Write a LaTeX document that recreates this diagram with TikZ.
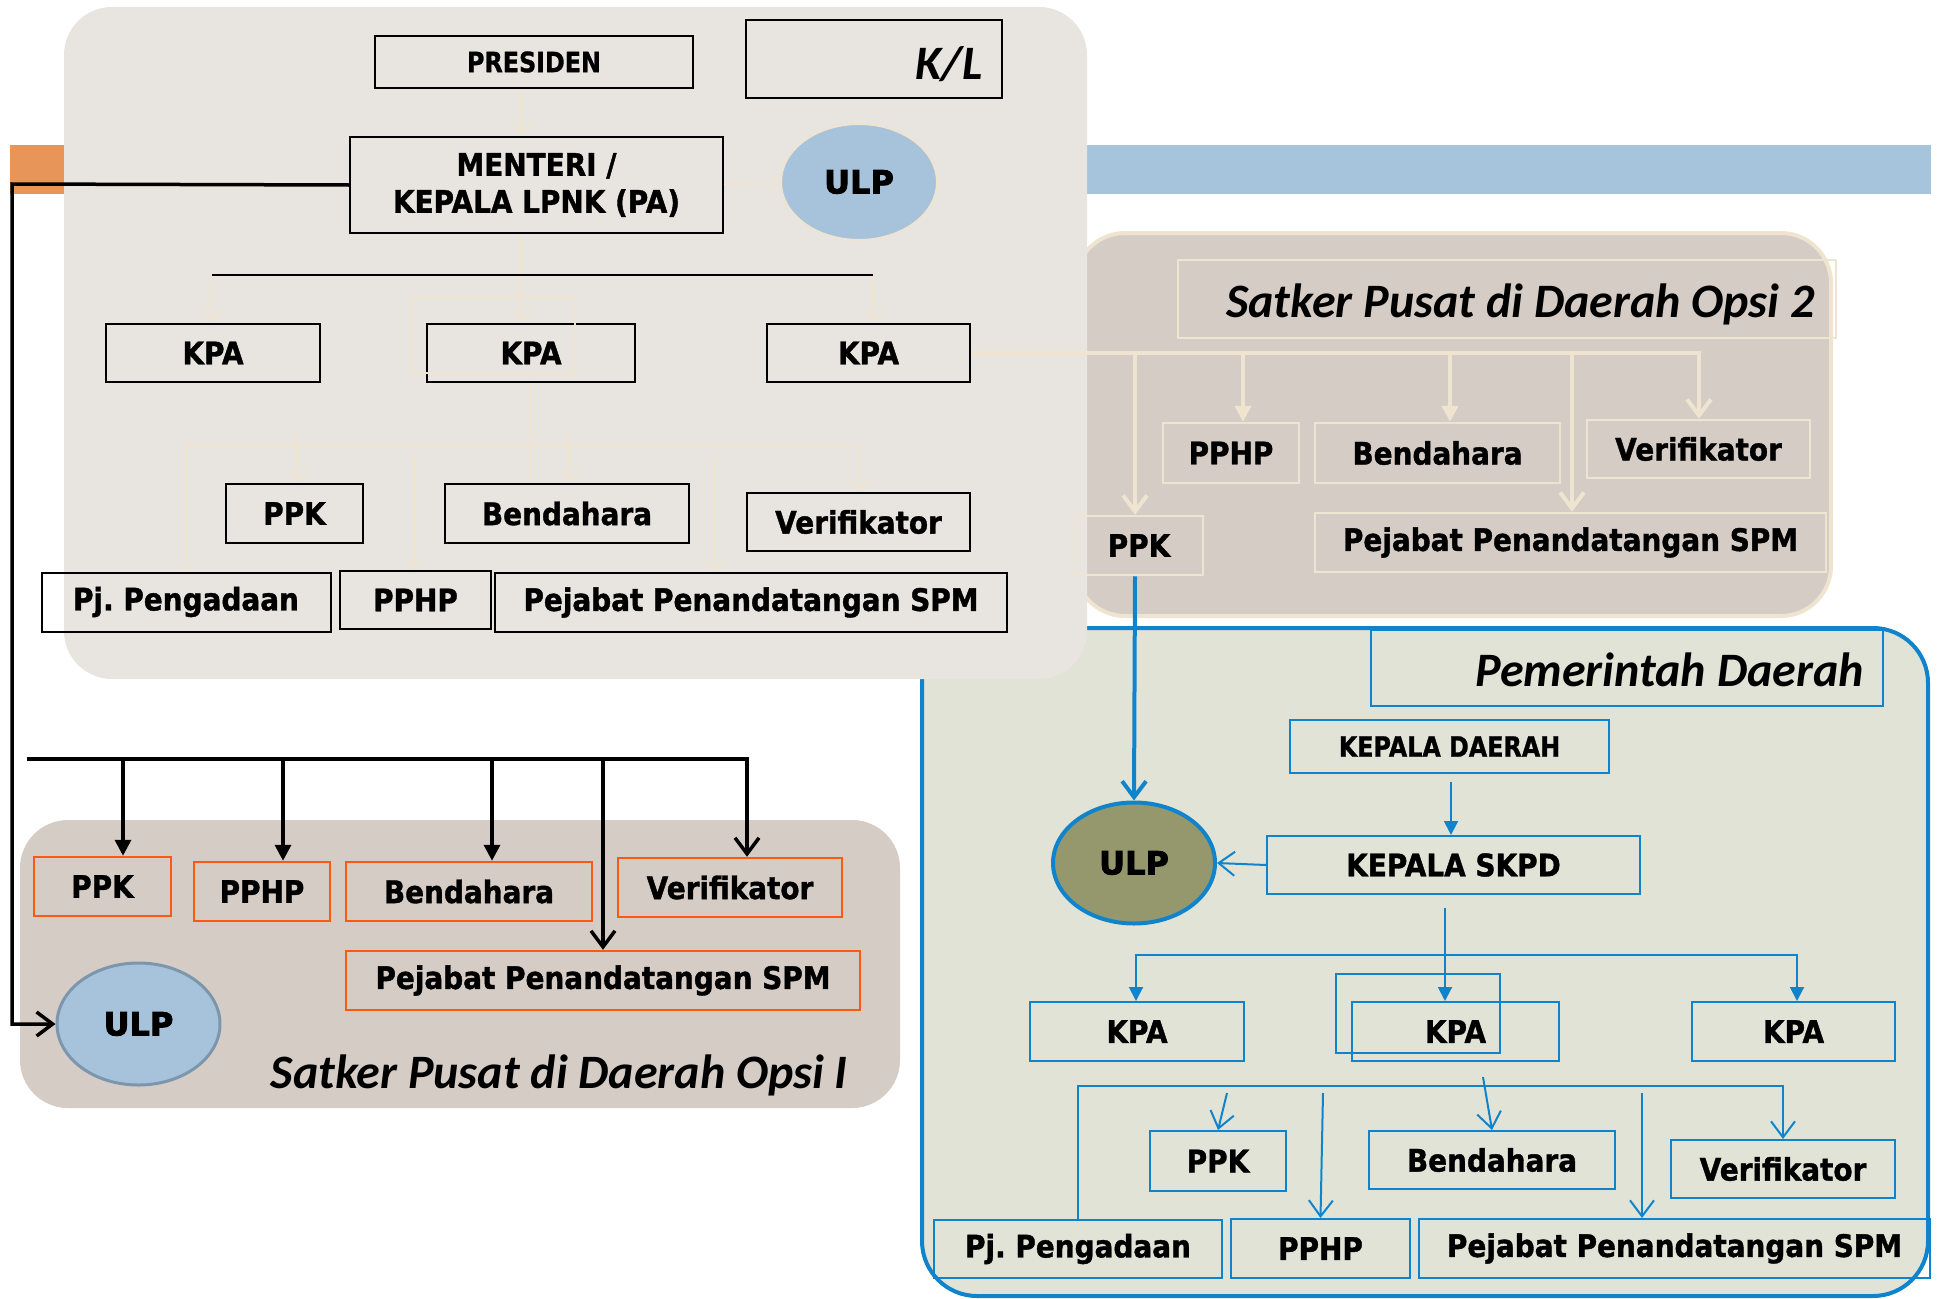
\documentclass[tikz,border=0pt]{standalone}
\usepackage{fontspec}
\setmainfont{DejaVu Sans}
\newfontfamily\labfont{DejaVu Sans Bold}[FakeStretch=0.9, FakeBold=1.2]
\newfontfamily\condfont{DejaVu Sans Bold}[FakeStretch=0.85, FakeBold=1.0]
\newfontfamily\ulpfont{DejaVu Sans Bold}[FakeBold=2.5]
\newfontfamily\titlefont{Carlito}
\usetikzlibrary{arrows.meta,shapes.geometric}

\definecolor{klbg}{RGB}{232,228,224}
\definecolor{taupe}{RGB}{214,204,198}
\definecolor{pemdabg}{RGB}{225,227,215}
\definecolor{cream}{RGB}{238,228,207}
\definecolor{pblue}{RGB}{15,132,204}
\definecolor{ulpblue}{RGB}{166,195,219}
\definecolor{ulpedge}{RGB}{124,150,173}
\definecolor{olive}{RGB}{148,152,108}
\definecolor{obox}{RGB}{250,90,20}
\definecolor{obar}{RGB}{232,149,90}
\definecolor{bbar}{RGB}{166,196,220}

\tikzset{
  lbl/.style={font=\labfont\fontsize{31}{37}\selectfont, inner sep=0pt},
  condlbl/.style={font=\condfont\fontsize{28}{34}\selectfont, inner sep=0pt},
  blackbox/.style={lbl, draw=black, line width=2pt},
  creambox/.style={lbl, draw=cream, line width=2.5pt},
  orangebox/.style={lbl, draw=obox, line width=2.5pt},
  bluebox/.style={lbl, draw=pblue, line width=2pt},
  ulpnode/.style={ellipse, inner sep=0pt, font=\ulpfont\fontsize{32}{36}\selectfont},
  ttl/.style={inner sep=0pt, font=\titlefont\fontsize{48}{56}\selectfont\bfseries\itshape},
  barbS/.tip={Straight Barb[length=12pt,width=20pt]},
  barbL/.tip={Straight Barb[length=16pt,width=24pt]},
  tri/.tip={Triangle[length=16pt,width=16pt]},
  triS/.tip={Triangle[length=14pt,width=14pt]},
  creamthin/.style={draw=cream, line width=1.5pt},
  creamthick/.style={draw=cream, line width=4pt},
  blackline/.style={draw=black, line width=3.5pt},
  bluethick/.style={draw=pblue, line width=4pt},
  bluethin/.style={draw=pblue, line width=2pt},
}

\begin{document}
\frenchspacing
\begin{tikzpicture}[x=1pt,y=-1pt]
\path[use as bounding box] (0,0) rectangle (1937,1298);

% ---------- background bars and panels ----------
\fill[obar] (10,145) rectangle (64,194);
\fill[bbar] (1087,145) rectangle (1931,194);
\filldraw[fill=pemdabg, draw=pblue, line width=4pt, rounded corners=55pt] (922,628) rectangle (1928,1296);
\filldraw[fill=taupe, draw=cream, line width=4pt, rounded corners=50pt] (1075,233) rectangle (1831,616);
\fill[klbg, rounded corners=48pt] (64,7) rectangle (1087,679);
\fill[taupe, rounded corners=48pt] (20,820) rectangle (900,1108);

% ---------- K/L ----------
\node[blackbox, condlbl, minimum width=318pt, minimum height=52pt] (presiden) at (534,62) {PRESIDEN};
\node[blackbox, line width=2.5pt, minimum width=256pt, minimum height=78pt] (kl) at (874,59) {};
\node[ttl, anchor=base east] (kltext) at (983,79) {K/L};
\node[blackbox, align=center, minimum width=373pt, minimum height=96pt] (menteri) at (536.5,185) {MENTERI /\\KEPALA LPNK (PA)};
\node[ulpnode, fill=ulpblue, draw=cream, line width=2pt, minimum width=156pt, minimum height=116pt] (ulpA) at (859,182) {ULP};

\node[blackbox, minimum width=214pt, minimum height=58pt] (kpaA1) at (213,353) {KPA};
\node[blackbox, minimum width=208pt, minimum height=58pt] (kpaA2) at (531,353) {KPA};
\node[blackbox, minimum width=203pt, minimum height=58pt] (kpaA3) at (868.5,353) {KPA};
\node[draw=cream, line width=1.5pt, minimum width=163pt, minimum height=76pt] (kpaA2frame) at (493.5,335) {};

\node[blackbox, minimum width=137pt, minimum height=59pt] (ppkA) at (294.5,513.5) {PPK};
\node[blackbox, minimum width=244pt, minimum height=59pt] (bendA) at (567,513.5) {Bendahara};
\node[blackbox, minimum width=223pt, minimum height=58pt] (verA) at (858.5,522) {Verifikator};
\node[blackbox, minimum width=289pt, minimum height=59pt] (pjA) at (186,602) {Pj. Pengadaan};
\node[blackbox, minimum width=151pt, minimum height=58pt] (pphpA) at (415.5,600) {PPHP};
\node[blackbox, minimum width=512pt, minimum height=59pt] (spmA) at (751,602.5) {Pejabat Penandatangan SPM};

% ---------- Satker Pusat di Daerah Opsi 2 ----------
\node[creambox, minimum width=658pt, minimum height=78pt] (opsi2) at (1507,299) {};
\node[ttl, anchor=base east] (opsi2text) at (1815,317) {Satker Pusat di Daerah Opsi 2};
\node[creambox, minimum width=136pt, minimum height=60pt] (pphpB) at (1231,453) {PPHP};
\node[creambox, minimum width=245pt, minimum height=60pt] (bendB) at (1437.5,453) {Bendahara};
\node[creambox, minimum width=223pt, minimum height=58pt] (verB) at (1698.5,449) {Verifikator};
\node[creambox, minimum width=128pt, minimum height=59pt] (ppkB) at (1139,545.5) {PPK};
\node[creambox, minimum width=511pt, minimum height=59pt] (spmB) at (1570.5,542.5) {Pejabat Penandatangan SPM};

% ---------- Pemerintah Daerah ----------
\node[bluebox, minimum width=512pt, minimum height=76pt] (pemda) at (1627,668) {};
\node[ttl, anchor=base east] (pemdatext) at (1864,686) {Pemerintah Daerah};
\node[bluebox, condlbl, minimum width=319pt, minimum height=53pt] (kdaerah) at (1449.5,746.5) {KEPALA DAERAH};
\node[bluebox, minimum width=373pt, minimum height=58pt] (skpd) at (1453.5,865) {KEPALA SKPD};
\node[ulpnode, fill=olive, draw=pblue, line width=4pt, minimum width=162pt, minimum height=121pt] (ulpC) at (1134,863) {ULP};

\node[bluebox, minimum width=214pt, minimum height=59pt] (kpaC1) at (1137,1031.5) {KPA};
\node[bluebox, minimum width=207pt, minimum height=59pt] (kpaC2) at (1455.5,1031.5) {KPA};
\node[bluebox, minimum width=203pt, minimum height=59pt] (kpaC3) at (1793.5,1031.5) {KPA};
\node[draw=pblue, line width=2pt, minimum width=164pt, minimum height=79pt] (kpaC2frame) at (1418,1013.5) {};

\node[bluebox, minimum width=136pt, minimum height=60pt] (ppkC) at (1218,1161) {PPK};
\node[bluebox, minimum width=246pt, minimum height=58pt] (bendC) at (1492,1160) {Bendahara};
\node[bluebox, minimum width=224pt, minimum height=58pt] (verC) at (1783,1169) {Verifikator};
\node[bluebox, minimum width=288pt, minimum height=58pt] (pjC) at (1078,1249) {Pj. Pengadaan};
\node[bluebox, minimum width=179pt, minimum height=59pt] (pphpC) at (1320.5,1248.5) {PPHP};
\node[bluebox, minimum width=511pt, minimum height=59pt] (spmC) at (1674.5,1248.5) {Pejabat Penandatangan SPM};

% ---------- Satker Pusat di Daerah Opsi I ----------
\node[orangebox, minimum width=137pt, minimum height=59pt] (ppkD) at (102.5,886.5) {PPK};
\node[orangebox, minimum width=136pt, minimum height=59pt] (pphpD) at (262,891.5) {PPHP};
\node[orangebox, minimum width=246pt, minimum height=59pt] (bendD) at (469,891.5) {Bendahara};
\node[orangebox, minimum width=224pt, minimum height=59pt] (verD) at (730,887.5) {Verifikator};
\node[orangebox, minimum width=514pt, minimum height=59pt] (spmD) at (603,980.5) {Pejabat Penandatangan SPM};
\node[ulpnode, fill=ulpblue, draw=ulpedge, line width=3pt, minimum width=163pt, minimum height=122pt] (ulpD) at (138.5,1024) {ULP};
\node[ttl, anchor=base east] (opsi1text) at (848,1088) {Satker Pusat di Daerah Opsi I};

% ---------- connectors: K/L ----------
\coordinate (ta) at (521,0);
\coordinate (hl1) at (212,275);
\coordinate (hl2) at (873,275);
\coordinate (vk) at (530,0);
\coordinate (b1) at (186,445);
\coordinate (b2) at (859,445);
\coordinate (pA) at (297,437);
\coordinate (bA) at (569,437);
\coordinate (hA) at (414,453);
\coordinate (sA) at (714,453);

\draw[creamthin,-barbS] (ta |- presiden.south) -- (ta |- menteri.north);
\draw[creamthin,-barbS] (ta |- menteri.south) -- (ta |- kpaA2.north);
\draw[creamthin,-barbS] (menteri.east) -- (ulpA.west);
\draw[creamthin,-barbS] (hl1) -- (hl1 |- kpaA1.north);
\draw[creamthin,-barbS] (hl2) -- (hl2 |- kpaA3.north);
\draw[black, line width=2pt] (hl1) -- (hl2);
\draw[creamthin] (vk |- kpaA2.south) -- (vk |- bendA.north);
\draw[creamthin,-barbS] (b1 |- pjA.north) -- (b1) -- (b2) -- (b2 |- verA.north);
\draw[creamthin,-barbS] (pA) -- (pA |- ppkA.north);
\draw[creamthin,-barbS] (bA) -- (bA |- bendA.north);
\draw[creamthin,-barbS] (hA) -- (hA |- pphpA.north);
\draw[creamthin,-barbS] (sA) -- (sA |- spmA.north);

% ---------- connectors: Opsi 2 ----------
\coordinate (s2) at (1699,353);
\coordinate (s2a) at (1135,353);
\coordinate (s2b) at (1243,353);
\coordinate (s2c) at (1450,353);
\coordinate (s2d) at (1572,351);
\draw[creamthick,-barbL] (kpaA3.east) -- (s2) -- (s2 |- verB.north);
\draw[creamthick,-barbL] (s2a) -- (s2a |- ppkB.north);
\draw[creamthick,-tri] (s2b) -- (s2b |- pphpB.north);
\draw[creamthick,-tri] (s2c) -- (s2c |- bendB.north);
\draw[creamthick,-barbL] (s2d) -- (s2d |- spmB.north);
\draw[bluethick,-barbL] (s2a |- ppkB.south) -- (ulpC.north);

% ---------- connectors: Pemerintah Daerah ----------
\coordinate (p1) at (1451,782);
\coordinate (p2) at (1445,908);
\coordinate (q1) at (1136,955);
\coordinate (q2) at (1797,955);
\coordinate (r1) at (1078,1086);
\coordinate (r2) at (1783,1086);
\coordinate (r3) at (1227,1093);
\coordinate (r4) at (1483,1077);
\coordinate (r5) at (1323,1093);
\coordinate (r6) at (1642,1093);
\draw[bluethin,-triS] (p1) -- (p1 |- skpd.north);
\draw[bluethin,-barbL] (skpd.west) -- (ulpC.east);
\draw[bluethin,-triS] (p2) -- (p2 |- kpaC2.north);
\draw[bluethin,triS-triS] (q1 |- kpaC1.north) -- (q1) -- (q2) -- (q2 |- kpaC3.north);
\draw[bluethin,-barbL] (r1 |- pjC.north) -- (r1) -- (r2) -- (r2 |- verC.north);
\draw[bluethin,-barbL] (r3) -- (ppkC.north);
\draw[bluethin,-barbL] (r4) -- (bendC.north);
\draw[bluethin,-barbL] (r5) -- (pphpC.north);
\draw[bluethin,-barbL] (r6) -- (r6 |- spmC.north);

% ---------- connectors: Opsi I ----------
\coordinate (m1) at (12,184);
\coordinate (m2) at (12,1024);
\coordinate (o1) at (27,759);
\coordinate (o2) at (123,759);
\coordinate (o3) at (283,759);
\coordinate (o4) at (492,759);
\coordinate (o5) at (747,759);
\coordinate (o6) at (603,759);
\draw[blackline,-barbL] (menteri.west) -- (m1) -- (m2) -- (ulpD.west);
\draw[blackline,-barbL] (o1) -- (o5) -- (o5 |- verD.north);
\draw[blackline,-tri] (o2) -- (o2 |- ppkD.north);
\draw[blackline,-tri] (o3) -- (o3 |- pphpD.north);
\draw[blackline,-tri] (o4) -- (o4 |- bendD.north);
\draw[blackline,-barbL] (o6) -- (o6 |- spmD.north);
\end{tikzpicture}
\end{document}
